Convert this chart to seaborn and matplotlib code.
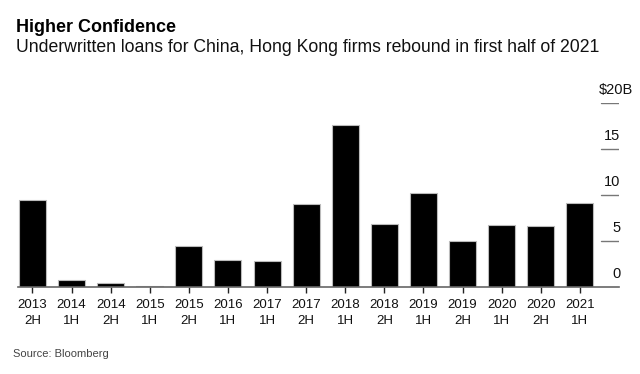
import numpy as np
import pandas as pd
import seaborn as sns
import matplotlib
matplotlib.use('Agg')
import matplotlib.pyplot as plt

# 数据：半年度承销贷款（十亿美元）
periods = ['2013\n2H', '2014\n1H', '2014\n2H', '2015\n1H', '2015\n2H', '2016\n1H', '2017\n1H',
           '2017\n2H', '2018\n1H', '2018\n2H', '2019\n1H', '2019\n2H', '2020\n1H', '2020\n2H', '2021\n1H']
loans = [9.5, 0.75, 0.45, 0.15, 4.5, 2.95, 2.85, 9.05, 17.6, 6.9, 10.2, 5.0, 6.7, 6.6, 9.1]
ytick_vals = [0, 5, 10, 15, 20]
ytick_labels = ['0', '5', '10', '15', '$20B']

sns.set_style('white')
plt.rcParams['font.family'] = ['Liberation Sans', 'DejaVu Sans']

df = pd.DataFrame({'period': periods, 'loans': loans})

fig = plt.figure(figsize=(6.4, 3.74), dpi=100)
ax = fig.add_axes([18 / 640, 1 - 287 / 374, 601 / 640, 184 / 374])

sns.barplot(data=df, x='period', y='loans', color='black', edgecolor='#bbbbbb',
            linewidth=0.8, width=0.69, saturation=1, ax=ax)

ax.set_xlim(-0.37, 15.0)
ax.set_ylim(0, 20)
ax.set_xlabel('')
ax.set_ylabel('')

for s in ['top', 'right', 'left']:
    ax.spines[s].set_visible(False)
ax.spines['bottom'].set_color('#666666')
ax.spines['bottom'].set_linewidth(1.2)

ax.set_yticks([])
ax.tick_params(axis='x', bottom=True, length=4, width=1, color='#222222',
               labelsize=9.5, pad=5, labelcolor='#111111')
for lbl in ax.get_xticklabels():
    lbl.set_linespacing(1.4)

# 右侧刻度短线与标签
for v, t in zip(ytick_vals, ytick_labels):
    if v > 0:
        ax.axhline(v, xmin=0.97, xmax=1.0, color='#777777', linewidth=1)
    xpos = 1.023 if t.startswith('$') else 1.002
    ax.text(xpos, v + 1.0, t, transform=ax.get_yaxis_transform(), ha='right',
            va='baseline', fontsize=10.5, color='#111111', clip_on=False)

fig.text(16 / 640, 1 - 32 / 374, 'Higher Confidence', fontsize=13, fontweight='bold',
         va='baseline', ha='left', color='#000000')
fig.text(16 / 640, 1 - 52 / 374, 'Underwritten loans for China, Hong Kong firms rebound in first half of 2021',
         fontsize=12.7, va='baseline', ha='left', color='#111111')
fig.text(13 / 640, 1 - 357 / 374, 'Source: Bloomberg', fontsize=8, va='baseline', ha='left',
         color='#444444')

fig.savefig('out.png', dpi=100)
